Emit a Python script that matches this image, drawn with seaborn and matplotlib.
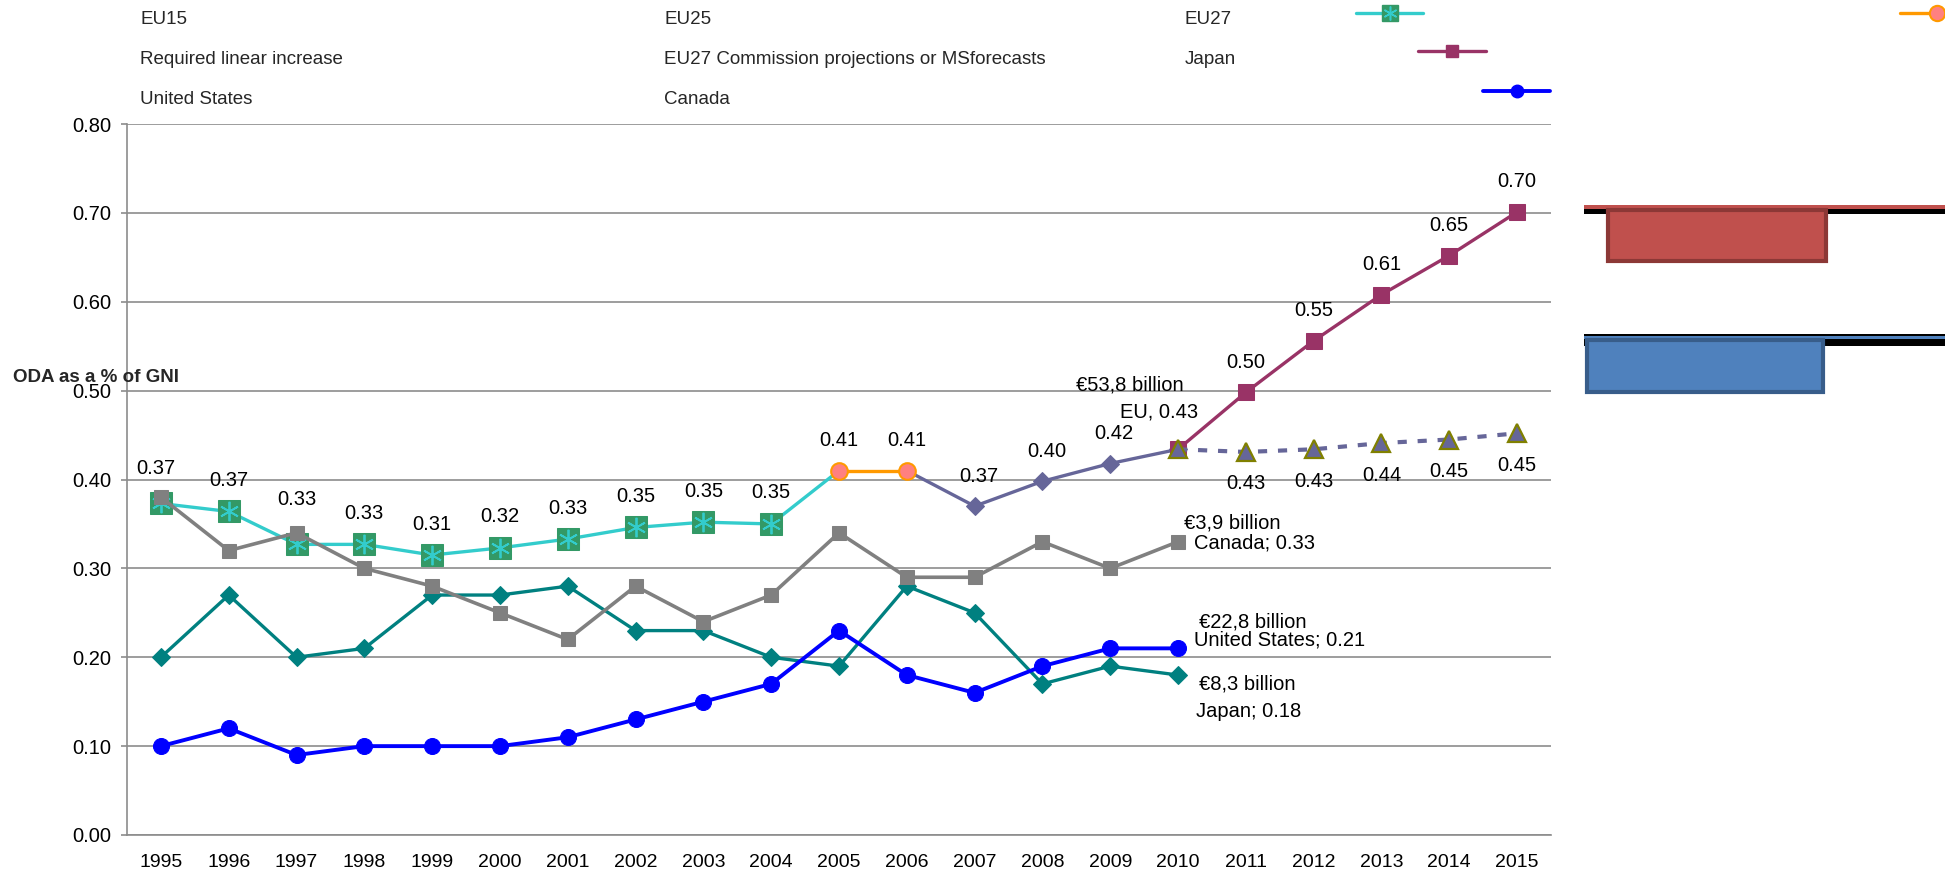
import numpy as np
import matplotlib
matplotlib.use("Agg")
import matplotlib.pyplot as plt
from matplotlib.lines import Line2D
from matplotlib.patches import Rectangle
import seaborn as sns

# ODA as a % of GNI
years = list(range(1995, 2016))

eu15_years = list(range(1995, 2006))
eu15_vals = [0.373, 0.364, 0.327, 0.327, 0.315, 0.323, 0.333, 0.346, 0.352, 0.350, 0.41]
eu15_labels = ["0.37", "0.37", "0.33", "0.33", "0.31", "0.32", "0.33", "0.35", "0.35", "0.35"]

eu25_years = [2005, 2006]
eu25_vals = [0.41, 0.41]
eu25_labels = ["0.41", "0.41"]

eu27_years = [2006, 2007, 2008, 2009, 2010]
eu27_vals = [0.41, 0.370, 0.398, 0.418, 0.434]
eu27_labels = ["0.37", "0.40", "0.42"]

req_years = list(range(2010, 2016))
req_vals = [0.434, 0.498, 0.556, 0.608, 0.652, 0.701]
req_labels = ["0.50", "0.55", "0.61", "0.65", "0.70"]

proj_years = list(range(2010, 2016))
proj_vals = [0.434, 0.431, 0.434, 0.441, 0.445, 0.452]
proj_labels = ["0.43", "0.43", "0.44", "0.45", "0.45"]

ctry_years = list(range(1995, 2011))
japan_vals = [0.20, 0.27, 0.20, 0.21, 0.27, 0.27, 0.28, 0.23, 0.23, 0.20,
              0.19, 0.28, 0.25, 0.17, 0.19, 0.18]
us_vals = [0.10, 0.12, 0.09, 0.10, 0.10, 0.10, 0.11, 0.13, 0.15, 0.17,
           0.23, 0.18, 0.16, 0.19, 0.21, 0.21]
canada_vals = [0.38, 0.32, 0.34, 0.30, 0.28, 0.25, 0.22, 0.28, 0.24, 0.27,
               0.34, 0.29, 0.29, 0.33, 0.30, 0.33]

legend_rows = [["EU15", "EU25", "EU27"],
               ["Required linear increase", "EU27 Commission projections or MSforecasts", "Japan"],
               ["United States", "Canada"]]

W, H = 1945, 882

sns.set_theme(style="white")
plt.rcParams["font.family"] = ["Liberation Sans", "DejaVu Sans"]

fig = plt.figure(figsize=(W / 100, H / 100), dpi=100)
ax = fig.add_axes([127 / W, 1 - 835 / H, (1551 - 127) / W, (835 - 124) / H])


def xi(yrs):
    return [y - 1995 for y in yrs]


def fx(px):
    return px / W


def fy(py):
    return 1 - py / H


# series lines
sns.lineplot(x=xi(eu15_years), y=eu15_vals, ax=ax, color="#33CCCC", lw=2.4,
             marker="s", markersize=16, markerfacecolor="#339966", markeredgecolor="#339966",
             markevery=list(range(10)), zorder=3)
sns.lineplot(x=xi(eu15_years[:10]), y=eu15_vals[:10], ax=ax, linestyle="none",
             marker=(6, 2, 0), markersize=14, markeredgecolor="#33CCCC", markeredgewidth=1.3,
             zorder=4)
sns.lineplot(x=xi(eu27_years), y=eu27_vals, ax=ax, color="#666699", lw=2.4,
             marker="D", markersize=9, markerfacecolor="#666699", markeredgecolor="#666699",
             markevery=list(range(1, 5)), zorder=3)
sns.lineplot(x=xi(eu25_years), y=eu25_vals, ax=ax, color="#FF9900", lw=2.4,
             marker="o", markersize=12, markerfacecolor="#FF8080", markeredgecolor="#FF9900",
             markeredgewidth=1.5, zorder=4)
sns.lineplot(x=xi(req_years), y=req_vals, ax=ax, color="#993366", lw=2.4,
             marker="s", markersize=12, markerfacecolor="#993366", markeredgecolor="#993366",
             zorder=3)
sns.lineplot(x=xi(proj_years), y=proj_vals, ax=ax, color="#666699", lw=3,
             linestyle=(0, (2.2, 2.6)), marker="^", markersize=13,
             markerfacecolor="#666699", markeredgecolor="#808000", markeredgewidth=1.6, zorder=5)
sns.lineplot(x=xi(ctry_years), y=japan_vals, ax=ax, color="#008080", lw=2.4,
             marker="D", markersize=9, markerfacecolor="#008080", markeredgecolor="#008080",
             zorder=3)
sns.lineplot(x=xi(ctry_years), y=us_vals, ax=ax, color="#0000FF", lw=2.8,
             marker="o", markersize=11.5, markerfacecolor="#0000FF", markeredgecolor="#0000FF",
             zorder=3)
sns.lineplot(x=xi(ctry_years), y=canada_vals, ax=ax, color="#808080", lw=2.6,
             marker="s", markersize=9.5, markerfacecolor="#808080", markeredgecolor="#808080",
             zorder=4)

# data labels
lab_kw = dict(textcoords="offset pixels", ha="center", va="center", fontsize=14.5, color="black", zorder=6)
extra = {1995: (-5, 4), 1997: (0, 14)}
for yr, v, t in zip(eu15_years, eu15_vals, eu15_labels):
    dx, dy = extra.get(yr, (0, 0))
    ax.annotate(t, (yr - 1995, v), xytext=(dx, 31 + dy), **lab_kw)
for yr, v, t in zip(eu25_years, eu25_vals, eu25_labels):
    ax.annotate(t, (yr - 1995, v), xytext=(0, 30), **lab_kw)
for yr, v, t in zip(eu27_years[1:4], eu27_vals[1:4], eu27_labels):
    ax.annotate(t, (yr - 1995, v), xytext=(4, 30), **lab_kw)
for yr, v, t in zip(req_years[1:], req_vals[1:], req_labels):
    ax.annotate(t, (yr - 1995, v), xytext=(0, 30), **lab_kw)
for yr, v, t in zip(proj_years[1:], proj_vals[1:], proj_labels):
    ax.annotate(t, (yr - 1995, v), xytext=(0, -32), **lab_kw)

end_kw = dict(textcoords="offset pixels", ha="left", va="center", fontsize=14.5, color="black", zorder=6)
x_end = 2010 - 1995
ax.annotate("€53,8 billion", (x_end, eu27_vals[-1]), xytext=(-102, 64), **end_kw)
ax.annotate("EU, 0.43", (x_end, eu27_vals[-1]), xytext=(-58, 37), **end_kw)
ax.annotate("€3,9 billion", (x_end, canada_vals[-1]), xytext=(6, 19), **end_kw)
ax.annotate("Canada; 0.33", (x_end, canada_vals[-1]), xytext=(16, -1), **end_kw)
ax.annotate("€22,8 billion", (x_end, us_vals[-1]), xytext=(21, 26), **end_kw)
ax.annotate("United States; 0.21", (x_end, us_vals[-1]), xytext=(16, 8), **end_kw)
ax.annotate("€8,3 billion", (x_end, japan_vals[-1]), xytext=(21, -9), **end_kw)
ax.annotate("Japan; 0.18", (x_end, japan_vals[-1]), xytext=(18, -36), **end_kw)

# axes styling
ax.set_xlim(-0.5, 20.5)
ax.set_ylim(0, 0.8)
ax.set_xticks(range(len(years)))
ax.set_xticklabels([str(y) for y in years], fontsize=14)
ax.set_xticks(np.arange(-0.5, 21, 1), minor=True)
ax.set_yticks(np.arange(0, 0.81, 0.1))
ax.set_yticklabels([f"{v:.2f}" for v in np.arange(0, 0.81, 0.1)], fontsize=14.5)
ax.tick_params(axis="x", which="major", length=0, pad=14, colors="black")
ax.tick_params(axis="x", which="minor", length=4.5, width=1.2, color="#8c8c8c", direction="out")
ax.tick_params(axis="y", length=4.5, width=1.2, pad=7, left=True, colors="black")
ax.tick_params(axis="y", color="#8c8c8c")
ax.yaxis.grid(True, color="#8c8c8c", lw=1.2)
ax.set_axisbelow(True)
for s in ["top", "right"]:
    ax.spines[s].set_visible(False)
for s in ["left", "bottom"]:
    ax.spines[s].set_color("#8c8c8c")
    ax.spines[s].set_linewidth(1.2)
ax.set_xlabel("")
ax.set_ylabel("")

fig.text(fx(13), fy(378), "ODA as a % of GNI", fontsize=13.5, fontweight="bold",
         ha="left", va="center")

# legend (laid out as in the original export)
col_x = [140, 664, 1185]
row_y = [20, 60, 99]
for r, row in enumerate(legend_rows):
    for c, txt in enumerate(row):
        fig.text(fx(col_x[c]), fy(row_y[r]), txt, fontsize=13.5, ha="left", va="center")


def leg_handle(x0, x1, y, color, lw, marker_kw, mx=None):
    fig.add_artist(Line2D([fx(x0), fx(x1)], [fy(y), fy(y)], color=color, lw=lw,
                          transform=fig.transFigure))
    mx = (x0 + x1) / 2 if mx is None else mx
    fig.add_artist(Line2D([fx(mx)], [fy(y)], linestyle="none", transform=fig.transFigure, **marker_kw))


leg_handle(1356, 1423, 13, "#33CCCC", 2.4,
           dict(marker="s", markersize=12, markerfacecolor="#339966", markeredgecolor="#339966"))
fig.add_artist(Line2D([fx(1389.5)], [fy(13)], linestyle="none", marker=(6, 2, 0), markersize=10,
                      markeredgecolor="#33CCCC", markeredgewidth=1.1, transform=fig.transFigure))
leg_handle(1900, 1945, 13, "#FF9900", 2.4,
           dict(marker="o", markersize=11, markerfacecolor="#FF8080", markeredgecolor="#FF9900",
                markeredgewidth=1.5), mx=1937)
leg_handle(1418, 1486, 51, "#993366", 2.4,
           dict(marker="s", markersize=9, markerfacecolor="#993366", markeredgecolor="#993366"))
leg_handle(1483, 1550, 91, "#0000FF", 2.8,
           dict(marker="o", markersize=9, markerfacecolor="#0000FF", markeredgecolor="#0000FF"))


# stray shapes on the right
def rect(x0, y0, x1, y1, fc, ec=None, lw=0):
    fig.add_artist(Rectangle((fx(x0), fy(y1)), fx(x1) - fx(x0), fy(y0) - fy(y1),
                             facecolor=fc, edgecolor=ec if ec else fc, lw=lw,
                             transform=fig.transFigure))


rect(1584, 208, 1945, 214, "black")
rect(1584, 205, 1945, 209, "#C0504D")
rect(1608, 210, 1826, 261, "#C0504D", "#8C3836", 3)
rect(1584, 334, 1945, 346, "black")
rect(1584, 336, 1945, 339, "#4F81BD")
rect(1587, 340, 1823, 392, "#4F81BD", "#385D8A", 3)

fig.savefig("out.png", dpi=100)
